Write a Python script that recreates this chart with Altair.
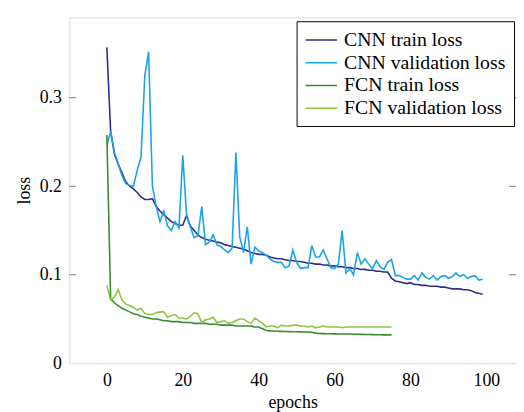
import altair as alt
import pandas as pd

cnn_train = [0.357, 0.262, 0.236, 0.225, 0.215, 0.205, 0.200, 0.197, 0.193, 0.188,
             0.185, 0.185, 0.186, 0.177, 0.172, 0.168, 0.164, 0.160, 0.158, 0.156,
             0.156, 0.167, 0.155, 0.150, 0.145, 0.142, 0.140, 0.139, 0.138, 0.137,
             0.136, 0.134, 0.133, 0.132, 0.131, 0.130, 0.129, 0.127, 0.125, 0.124,
             0.123, 0.123, 0.122, 0.120, 0.119, 0.118, 0.118, 0.117, 0.116, 0.116,
             0.115, 0.115, 0.114, 0.113, 0.113, 0.112, 0.112, 0.111, 0.111, 0.110,
             0.110, 0.109, 0.109, 0.108, 0.108, 0.107, 0.107, 0.106, 0.106, 0.105,
             0.105, 0.104, 0.104, 0.103, 0.103, 0.096, 0.093, 0.092, 0.091, 0.090,
             0.091, 0.089, 0.089, 0.088, 0.088, 0.087, 0.087, 0.087, 0.086, 0.086,
             0.085, 0.084, 0.084, 0.084, 0.083, 0.083, 0.082, 0.080, 0.079, 0.078]

cnn_val = [0.246, 0.262, 0.238, 0.225, 0.212, 0.203, 0.201, 0.200, 0.218, 0.233,
           0.325, 0.352, 0.200, 0.177, 0.160, 0.172, 0.155, 0.150, 0.160, 0.153,
           0.235, 0.168, 0.154, 0.142, 0.144, 0.177, 0.134, 0.137, 0.145, 0.134,
           0.132, 0.128, 0.125, 0.130, 0.238, 0.143, 0.125, 0.154, 0.112, 0.131,
           0.127, 0.125, 0.122, 0.118, 0.115, 0.114, 0.114, 0.108, 0.110, 0.128,
           0.114, 0.107, 0.108, 0.108, 0.133, 0.120, 0.120, 0.128, 0.118, 0.108,
           0.107, 0.112, 0.150, 0.102, 0.107, 0.100, 0.125, 0.112, 0.118, 0.112,
           0.107, 0.116, 0.109, 0.106, 0.114, 0.117, 0.099, 0.099, 0.097, 0.095,
           0.095, 0.099, 0.094, 0.102, 0.097, 0.095, 0.099, 0.094, 0.098, 0.099,
           0.096, 0.098, 0.102, 0.098, 0.100, 0.096, 0.098, 0.099, 0.094, 0.095]

fcn_train = [0.258, 0.073, 0.068, 0.065, 0.062, 0.060, 0.058, 0.056, 0.055, 0.053,
             0.052, 0.051, 0.050, 0.050, 0.049, 0.048, 0.048, 0.047, 0.047, 0.047,
             0.046, 0.046, 0.046, 0.045, 0.045, 0.045, 0.045, 0.044, 0.044, 0.044,
             0.043, 0.043, 0.043, 0.043, 0.042, 0.042, 0.042, 0.042, 0.042, 0.041,
             0.041, 0.039, 0.037, 0.0365, 0.0363, 0.0361, 0.036, 0.0358, 0.0357, 0.0356,
             0.0355, 0.0354, 0.0353, 0.0352, 0.035, 0.034, 0.0335, 0.0334, 0.0333, 0.0332,
             0.0331, 0.033, 0.033, 0.033, 0.0329, 0.0328, 0.0327, 0.0326, 0.0325, 0.0324,
             0.0323, 0.0322, 0.0321, 0.032, 0.032, 0.032]

fcn_val = [0.088, 0.071, 0.075, 0.083, 0.071, 0.067, 0.065, 0.063, 0.060, 0.062,
           0.056, 0.055, 0.055, 0.057, 0.058, 0.058, 0.052, 0.054, 0.055, 0.051,
           0.051, 0.050, 0.053, 0.057, 0.056, 0.046, 0.049, 0.050, 0.052, 0.046,
           0.047, 0.048, 0.045, 0.046, 0.048, 0.050, 0.050, 0.047, 0.045, 0.051,
           0.048, 0.045, 0.041, 0.042, 0.042, 0.040, 0.043, 0.042, 0.042, 0.043,
           0.043, 0.042, 0.042, 0.041, 0.042, 0.040, 0.041, 0.042, 0.041, 0.041,
           0.041, 0.041, 0.040, 0.041, 0.041, 0.041, 0.041, 0.041, 0.041, 0.041,
           0.041, 0.041, 0.041, 0.041, 0.041, 0.041]

series_names = ["CNN train loss", "CNN validation loss", "FCN train loss", "FCN validation loss"]
series_colors = ["#2e2e8e", "#1aa3e6", "#3a8a34", "#8cc63f"]
x_ticks = [0, 20, 40, 60, 80, 100]
y_ticks = [0, 0.1, 0.2, 0.3]

rows = []
for name, vals in zip(series_names, [cnn_train, cnn_val, fcn_train, fcn_val]):
    for i, v in enumerate(vals):
        rows.append({"epoch": i, "loss": v, "series": name})
df = pd.DataFrame(rows)
ticks_df = pd.DataFrame({"loss": y_ticks[1:]})

FONT = "Liberation Serif"
W, H = 452, 350

xscale = alt.Scale(domain=[-9.9, 107.8], nice=False, zero=False)
yscale = alt.Scale(domain=[0, 0.391], nice=False, zero=False)

lines = alt.Chart(df).mark_line(strokeWidth=1.6, clip=True).encode(
    x=alt.X("epoch:Q", scale=xscale,
            axis=alt.Axis(values=x_ticks, ticks=False, domain=False, grid=False,
                          labelFont=FONT, labelFontSize=18, labelPadding=9,
                          labelColor="#000", title="epochs", titleFont=FONT,
                          titleFontSize=18, titleFontWeight="normal",
                          titlePadding=4, titleColor="#000")),
    y=alt.Y("loss:Q", scale=yscale,
            axis=alt.Axis(values=y_ticks, ticks=False, domain=False, grid=False,
                          labelExpr="datum.value == 0 ? '0' : format(datum.value, '.1f')",
                          labelFont=FONT, labelFontSize=18, labelPadding=8,
                          labelColor="#000", title="loss", titleFont=FONT,
                          titleFontSize=18, titleFontWeight="normal",
                          titlePadding=6, titleColor="#000")),
    color=alt.Color("series:N",
                    scale=alt.Scale(domain=series_names, range=series_colors),
                    sort=series_names,
                    legend=alt.Legend(title=None, orient="none", legendX=230, legendY=4,
                                      symbolType="M-1,0L2.2,0", symbolSize=400,
                                      symbolStrokeWidth=1.6, labelFont=FONT,
                                      labelFontSize=20, labelColor="#000",
                                      labelOffset=18, rowPadding=2, padding=8,
                                      strokeColor="#000", fillColor="#fff",
                                      labelLimit=400)),
)

left_ticks = alt.Chart(ticks_df).mark_rule(color="#777", strokeWidth=1).encode(
    y=alt.Y("loss:Q", scale=yscale), x=alt.value(0), x2=alt.value(7))
right_ticks = alt.Chart(ticks_df).mark_rule(color="#777", strokeWidth=1).encode(
    y=alt.Y("loss:Q", scale=yscale), x=alt.value(W - 7), x2=alt.value(W))

chart = alt.layer(left_ticks, right_ticks, lines).properties(
    width=W, height=H,
    autosize=alt.AutoSizeParams(type="none"),
    padding={"left": 62, "top": 7, "right": 0, "bottom": 47},
).configure_view(stroke="#222", strokeWidth=1.2).configure(background="#fff")

chart.save("out.html", embed_options={"renderer": "svg", "actions": False})
